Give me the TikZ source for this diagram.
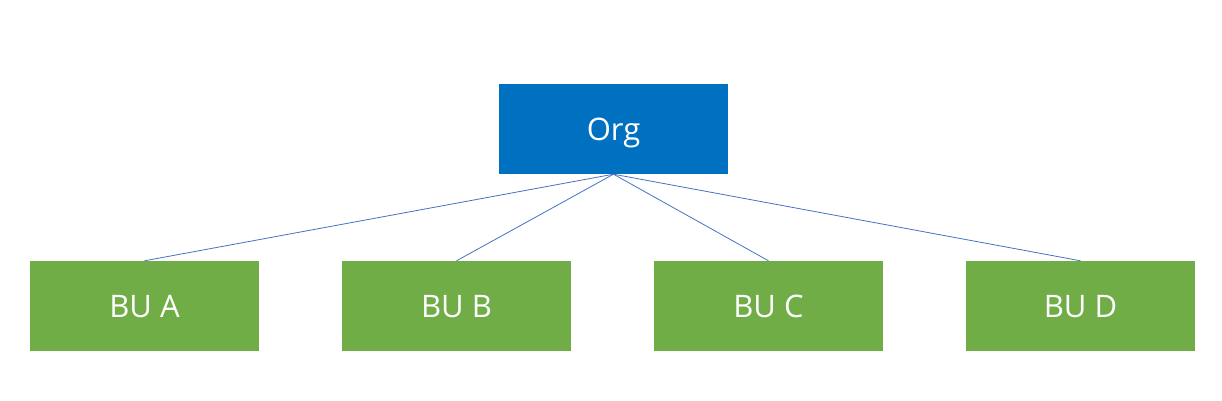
\documentclass[tikz,border=0pt]{standalone}
\usepackage{fontspec}
\setmainfont{Open Sans}
\usepackage{tikz}
\usetikzlibrary{positioning}
\definecolor{orgblue}{RGB}{0,112,192}
\definecolor{bugreen}{RGB}{112,173,71}
\definecolor{linkblue}{RGB}{68,114,196}

\begin{document}
\begin{tikzpicture}[x=1pt,y=-1pt]
\tikzset{unitbox/.style={minimum width=229pt,minimum height=90pt,inner sep=0pt,text=white,text height=22pt,text depth=0pt,font=\fontsize{31}{36}\selectfont}}
\tikzset{orgbox/.style={unitbox,fill=orgblue}}
\tikzset{bubox/.style={unitbox,fill=bugreen}}
\tikzset{link/.style={draw=linkblue,line width=0.8pt}}
\useasboundingbox (0,0) rectangle (1222,401);
 \node[orgbox] (org) at (613.5,129) {Org};
 \node[bubox] (bua) at (144.5,306) {BU A};
 \node[bubox] (bub) at (456.5,306) {BU B};
 \node[bubox] (buc) at (768.5,306) {BU C};
 \node[bubox] (bud) at (1080.5,306) {BU D};
 \foreach \bu in {bua,bub,buc,bud}
   \draw[link] (org.south) -- (\bu.north);
\end{tikzpicture}
\end{document}
